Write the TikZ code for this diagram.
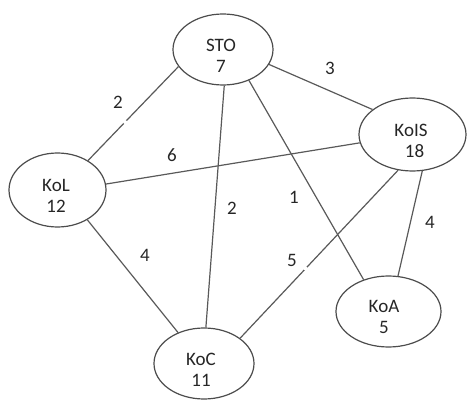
\documentclass[tikz,border=0pt]{standalone}
\usepackage{fontspec}
\setmainfont{Carlito}
\usetikzlibrary{shapes.geometric}
\begin{document}
\begin{tikzpicture}[x=1pt,y=-1pt,
  vertex/.style={ellipse,draw=black!70,line width=1.2pt,inner sep=0pt},
  vtext/.style={align=center,font=\fontsize{19}{21}\selectfont,text=black!85,inner sep=0pt},
  weight/.style={font=\fontsize{19}{21}\selectfont,text=black!85,inner sep=0pt},
  edge/.style={draw=black!65,line width=1.2pt},
  gapmark/.style={circle,fill=white,inner sep=0pt,minimum size=4pt}]
\useasboundingbox (0,0) rectangle (467,401);

% vertices
\node[vertex,minimum width=100pt,minimum height=71pt] (sto)  at (223,49.5) {};
\node[vertex,minimum width=107pt,minimum height=73pt] (kois) at (412.5,134.5) {};
\node[vertex,minimum width=97pt,minimum height=74pt]  (kol)  at (57.5,190) {};
\node[vertex,minimum width=105pt,minimum height=71pt] (koa)  at (388.5,311.5) {};
\node[vertex,minimum width=100pt,minimum height=71pt] (koc)  at (204,363.5) {};

% vertex captions
\node[vtext] (tsto)  at (221,56) {STO\\7};
\node[vtext] (tkois) at (411,141) {KoIS\\\hspace{7pt}18};
\node[vtext] (tkol)  at (56,196) {KoL\\12};
\node[vtext] (tkoa)  at (384,317) {KoA\\5};
\node[vtext] (tkoc)  at (201,370) {KoC\\11};

% edges
\draw[edge] (sto.-159) -- node[gapmark,pos=0.59]{} (kol.44);
\draw[edge] (sto.-18) -- (kois.148);
\draw[edge] (sto.-88) -- (koc.87);
\draw[edge] (sto.-50) -- (koa.128);
\draw[edge] (kol.7) -- (kois.-171);
\draw[edge] (kol.-45) -- (koc.130);
\draw[edge] (kois.-112) -- node[gapmark,pos=0.585]{} (koc.35);
\draw[edge] (kois.-75) -- (koa.75);

% edge weights
\node[weight] (w1) at (118,102) {2};
\node[weight] (w2) at (330,68) {3};
\node[weight] (w3) at (172,155) {6};
\node[weight] (w4) at (232,208) {2};
\node[weight] (w5) at (294,197) {1};
\node[weight] (w6) at (145,255) {4};
\node[weight] (w7) at (292,260) {5};
\node[weight] (w8) at (430,222) {4};
\end{tikzpicture}
\end{document}
